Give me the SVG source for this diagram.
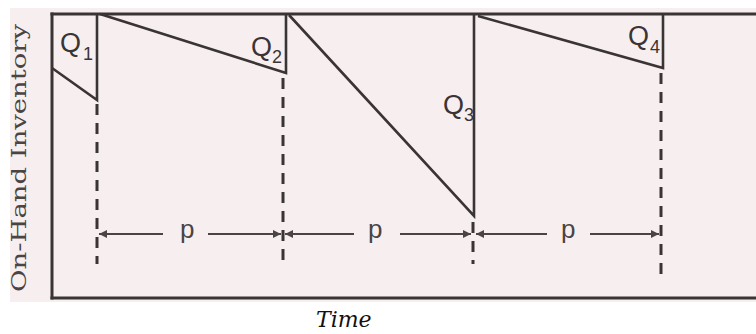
<svg xmlns="http://www.w3.org/2000/svg" width="756" height="334" viewBox="0 0 756 334">
  <defs>
    <style>
      .ax { stroke: #3a3434; stroke-width: 3; fill: none; stroke-linecap: square; }
      .saw { stroke: #3a3434; stroke-width: 2.6; fill: none; stroke-linejoin: miter; }
      .dash { stroke: #3a3434; stroke-width: 3; fill: none; stroke-dasharray: 11 8; }
      .arr { stroke: #4a4444; stroke-width: 2; fill: none; }
      .q { font-family: "Liberation Sans", Arial, sans-serif; font-size: 27px; fill: #3a3434; }
      .sub { font-family: "Liberation Sans", Arial, sans-serif; font-size: 18px; fill: #3a3434; }
      .p { font-family: "Liberation Sans", Arial, sans-serif; font-size: 26px; fill: #4a4444; }
      .ylab { font-family: "DejaVu Serif", "Liberation Serif", serif; font-size: 21px; fill: #4a4444; }
      .xlab { font-family: "DejaVu Serif", "Liberation Serif", serif; font-size: 22px; font-style: italic; fill: #111; }
    </style>
    <marker id="ah" viewBox="0 0 10 10" refX="10" refY="5" markerWidth="4.5" markerHeight="4" markerUnits="strokeWidth" orient="auto-start-reverse">
      <path d="M0,0 L10,5 L0,10 z" fill="#4a4444"/>
    </marker>
  </defs>

  <rect x="10" y="8" width="746" height="294" fill="#f7efef"/>

  <g id="axes">
    <line class="ax" x1="52" y1="14" x2="756" y2="14"/>
    <line class="ax" x1="52" y1="14" x2="52" y2="298"/>
    <line class="ax" x1="52" y1="298" x2="756" y2="298"/>
  </g>

  <g id="inventory-curve">
    <polyline class="saw" points="52,68 97,100 97,14"/>
    <polyline class="saw" points="100,14 286,73 286,14"/>
    <polyline class="saw" points="289,15 474,216 474,14"/>
    <polyline class="saw" points="478,16 663,68 663,14"/>
  </g>

  <g id="connectors">
    <line class="dash" x1="97" y1="104" x2="97" y2="264"/>
    <line class="dash" x1="283" y1="78" x2="283" y2="264"/>
    <line class="dash" x1="473" y1="222" x2="473" y2="264"/>
    <line class="dash" x1="661" y1="73" x2="661" y2="278"/>

    <line class="arr" x1="163" y1="234" x2="99" y2="234" marker-end="url(#ah)"/>
    <line class="arr" x1="208" y1="234" x2="281" y2="234" marker-end="url(#ah)"/>
    <line class="arr" x1="354" y1="234" x2="285" y2="234" marker-end="url(#ah)"/>
    <line class="arr" x1="400" y1="234" x2="471" y2="234" marker-end="url(#ah)"/>
    <line class="arr" x1="547" y1="234" x2="476" y2="234" marker-end="url(#ah)"/>
    <line class="arr" x1="590" y1="234" x2="659" y2="234" marker-end="url(#ah)"/>
  </g>

  <g id="label-Q1"><text class="q" x="60" y="52">Q</text><text class="sub" x="83" y="60">1</text></g>
  <g id="label-Q2"><text class="q" x="251" y="56">Q</text><text class="sub" x="272" y="63">2</text></g>
  <g id="label-Q3"><text class="q" x="443" y="114">Q</text><text class="sub" x="464" y="121">3</text></g>
  <g id="label-Q4"><text class="q" x="628" y="45">Q</text><text class="sub" x="650" y="53">4</text></g>

  <g id="period-labels">
    <text class="p" x="180" y="238">p</text>
    <text class="p" x="368" y="238">p</text>
    <text class="p" x="561" y="238">p</text>
  </g>

  <text class="ylab" transform="translate(26,292) rotate(-90)" x="0" y="0" textLength="268" lengthAdjust="spacingAndGlyphs">On-Hand Inventory</text>
  <text class="xlab" x="316" y="327">Time</text>
</svg>
